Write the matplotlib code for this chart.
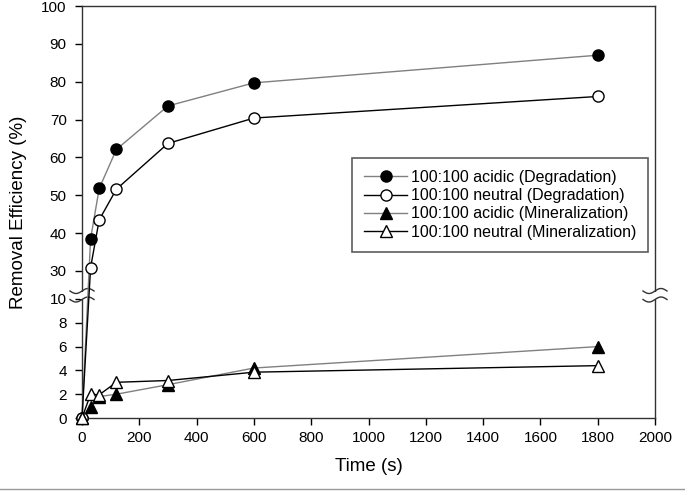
import numpy as np
import matplotlib
matplotlib.use('Agg')
import matplotlib.pyplot as plt
from matplotlib.patches import Rectangle

plt.rcParams['font.family'] = ['Liberation Sans', 'DejaVu Sans']

# data
time_s = [0, 30, 60, 120, 300, 600, 1800]
acid_deg = [0, 38.5, 51.8, 62.1, 73.6, 79.7, 87.0]
neut_deg = [0, 30.9, 43.5, 51.6, 63.7, 70.4, 76.1]
acid_min = [0, 0.95, 1.8, 2.0, 2.8, 4.2, 6.0]
neut_min = [0, 2.0, 1.95, 3.0, 3.15, 3.85, 4.4]
labels = ['100:100 acidic (Degradation)', '100:100 neutral (Degradation)',
          '100:100 acidic (Mineralization)', '100:100 neutral (Mineralization)']
yticks = [0, 2, 4, 6, 8, 10, 30, 40, 50, 60, 70, 80, 90, 100]
xticks = list(range(0, 2001, 200))

# broken y axis: 0-10 low part, 30-100 upper part, squeezed gap between
def fwd(v):
    v = np.asarray(v, dtype=float)
    return np.where(v <= 10, v * 11.9,
                    np.where(v <= 30, 119 + (v - 10) * 1.4, 147 + (v - 30) * (265 / 70)))

def inv(p):
    p = np.asarray(p, dtype=float)
    return np.where(p <= 119, p / 11.9,
                    np.where(p <= 147, 10 + (p - 119) / 1.4, 30 + (p - 147) * 70 / 265))

fig = plt.figure(figsize=(6.85, 4.92), dpi=100)
W, H = 573, 412
ax = fig.add_axes([82 / 685, 74 / 492, W / 685, H / 492])
ax.set_yscale('function', functions=(fwd, inv))

grey = '#808080'
ms = 8
ax.plot(time_s, acid_deg, '-o', color=grey, lw=1, ms=ms, mfc='black', mec='black', label=labels[0], zorder=3, clip_on=False)
ax.plot(time_s, neut_deg, '-o', color='black', lw=1, ms=ms, mfc='white', mec='black', label=labels[1], zorder=3, clip_on=False)
ax.plot(time_s, acid_min, '-^', color=grey, lw=1, ms=ms, mfc='black', mec='black', label=labels[2], zorder=3, clip_on=False)
ax.plot(time_s, neut_min, '-^', color='black', lw=1, ms=ms, mfc='white', mec='black', label=labels[3], zorder=3, clip_on=False)

ax.set_xlim(0, 2000)
ax.set_ylim(0, 100)
ax.set_xticks(xticks)
ax.set_yticks(yticks)
ax.minorticks_off()
ax.tick_params(axis='both', direction='out', length=5, width=1, labelsize=11, colors='black')
ax.tick_params(axis='y', pad=6)
ax.tick_params(axis='x', pad=4)
for s in ax.spines.values():
    s.set_linewidth(1)
    s.set_color('#333333')

ax.set_xlabel('Time (s)', fontsize=13.5, labelpad=10)
ax.set_ylabel('Removal Efficiency (%)', fontsize=13.5, labelpad=10)

# break marks on both sides
px, py = 1 / W, 1 / H
t = np.linspace(-1, 1, 40)
for xc in (0, 1):
    ax.add_patch(Rectangle((xc - 2 * px, 119.5 * py), 4 * px, 7 * py, transform=ax.transAxes,
                           facecolor='white', edgecolor='none', clip_on=False, zorder=2.6))
    for yc in (118.5, 127):
        ax.plot(xc + 12 * t * px, (yc + 2.5 * np.sin(np.pi * t)) * py, color='#333333', lw=1,
                transform=ax.transAxes, clip_on=False, zorder=2.7)

leg = ax.legend(loc='upper left', bbox_to_anchor=(352 / 685, 1 - 158 / 492), bbox_transform=fig.transFigure,
                borderaxespad=0, fontsize=11.5, frameon=True, fancybox=False, handlelength=2.7,
                handletextpad=0.25, labelspacing=0.2, borderpad=0.75)
leg.get_frame().set_edgecolor('#333333')
leg.get_frame().set_linewidth(1.2)

fig.add_artist(plt.Line2D([0, 1], [3 / 492, 3 / 492], color='#999999', lw=1, transform=fig.transFigure))

fig.savefig('out.png', dpi=100)
